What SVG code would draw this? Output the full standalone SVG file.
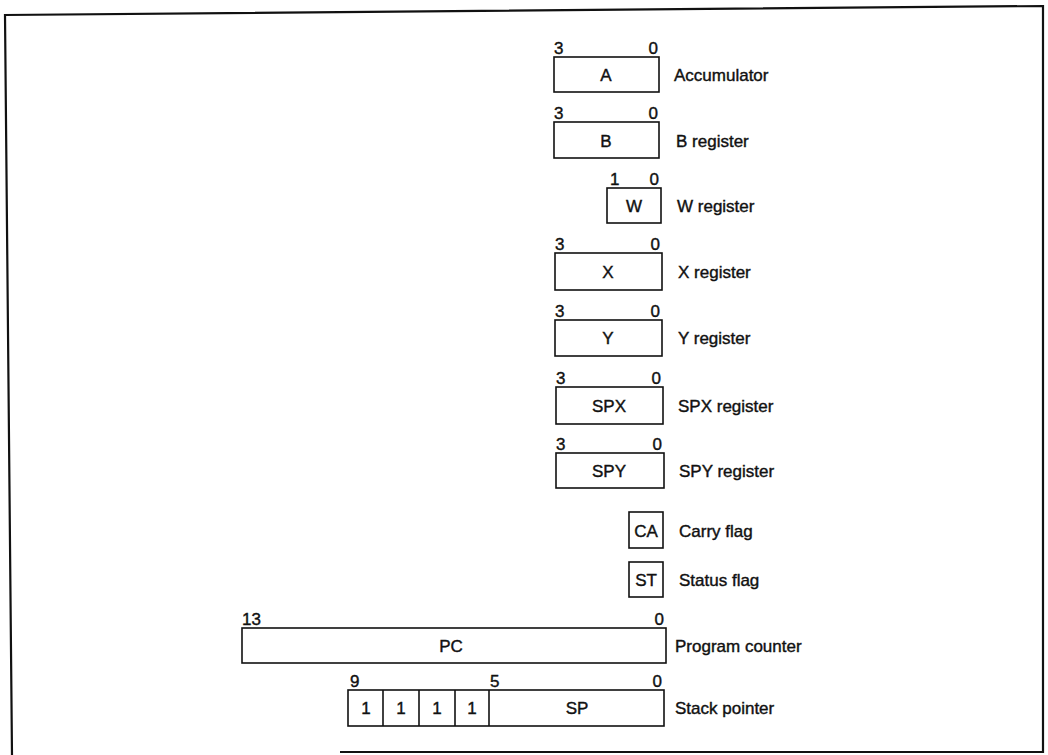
<svg xmlns="http://www.w3.org/2000/svg" width="1048" height="755" viewBox="0 0 1048 755">
<style>
.frame{fill:none;stroke:#111;stroke-width:2.2}
.box{fill:#fff;stroke:#111;stroke-width:1.6}
text{font-family:"Liberation Sans",Arial,sans-serif;fill:#111;stroke:#111;stroke-width:0.4}
.in{font-size:17px;text-anchor:middle}
.lbl{font-size:17px}
.bit{font-size:17px}
.r{text-anchor:end}
</style>
<rect width="1048" height="755" fill="#fff"/>
<path class="frame" d="M12 755 L5 15 L1043 6 L1043 752 L340 752"/>
<g id="acc">
<rect class="box" x="554" y="57" width="105" height="35"/>
<text class="bit" x="554" y="54">3</text><text class="bit r" x="658" y="54">0</text>
<text class="in" x="606" y="81">A</text>
<text class="lbl" x="674" y="81">Accumulator</text>
</g>
<g id="breg">
<rect class="box" x="554" y="122" width="105" height="36"/>
<text class="bit" x="554" y="119">3</text><text class="bit r" x="658" y="119">0</text>
<text class="in" x="606" y="147">B</text>
<text class="lbl" x="676" y="147">B register</text>
</g>
<g id="wreg">
<rect class="box" x="607" y="188" width="54" height="35"/>
<text class="bit" x="610" y="185">1</text><text class="bit r" x="659" y="185">0</text>
<text class="in" x="634" y="212">W</text>
<text class="lbl" x="677" y="212">W register</text>
</g>
<g id="xreg">
<rect class="box" x="555" y="253" width="107" height="37"/>
<text class="bit" x="555" y="250">3</text><text class="bit r" x="660" y="250">0</text>
<text class="in" x="608" y="278">X</text>
<text class="lbl" x="678" y="278">X register</text>
</g>
<g id="yreg">
<rect class="box" x="555" y="320" width="107" height="36"/>
<text class="bit" x="555" y="317">3</text><text class="bit r" x="660" y="317">0</text>
<text class="in" x="608" y="344">Y</text>
<text class="lbl" x="678" y="344">Y register</text>
</g>
<g id="spx">
<rect class="box" x="556" y="387" width="107" height="37"/>
<text class="bit" x="556" y="384">3</text><text class="bit r" x="661" y="384">0</text>
<text class="in" x="609" y="412">SPX</text>
<text class="lbl" x="678" y="412">SPX register</text>
</g>
<g id="spy">
<rect class="box" x="556" y="453" width="108" height="35"/>
<text class="bit" x="556" y="450">3</text><text class="bit r" x="662" y="450">0</text>
<text class="in" x="609" y="477">SPY</text>
<text class="lbl" x="679" y="477">SPY register</text>
</g>
<g id="ca">
<rect class="box" x="629" y="512" width="34" height="36"/>
<text class="in" x="646" y="537">CA</text>
<text class="lbl" x="679" y="537">Carry flag</text>
</g>
<g id="st">
<rect class="box" x="629" y="562" width="34" height="35"/>
<text class="in" x="646" y="586">ST</text>
<text class="lbl" x="679" y="586">Status flag</text>
</g>
<g id="pc">
<rect class="box" x="242" y="628" width="424" height="35"/>
<text class="bit" x="242" y="625">13</text><text class="bit r" x="664" y="625">0</text>
<text class="in" x="451" y="652">PC</text>
<text class="lbl" x="675" y="652">Program counter</text>
</g>
<g id="sp">
<rect class="box" x="348" y="690" width="316" height="36"/>
<line class="box" x1="383" y1="690" x2="383" y2="726"/>
<line class="box" x1="419" y1="690" x2="419" y2="726"/>
<line class="box" x1="455" y1="690" x2="455" y2="726"/>
<line class="box" x1="489" y1="690" x2="489" y2="726"/>
<text class="bit" x="350" y="687">9</text><text class="bit" x="490" y="687">5</text><text class="bit r" x="662" y="687">0</text>
<text class="in" x="366" y="714">1</text><text class="in" x="401" y="714">1</text><text class="in" x="437" y="714">1</text><text class="in" x="472" y="714">1</text>
<text class="in" x="577" y="714">SP</text>
<text class="lbl" x="675" y="714">Stack pointer</text>
</g>
</svg>
